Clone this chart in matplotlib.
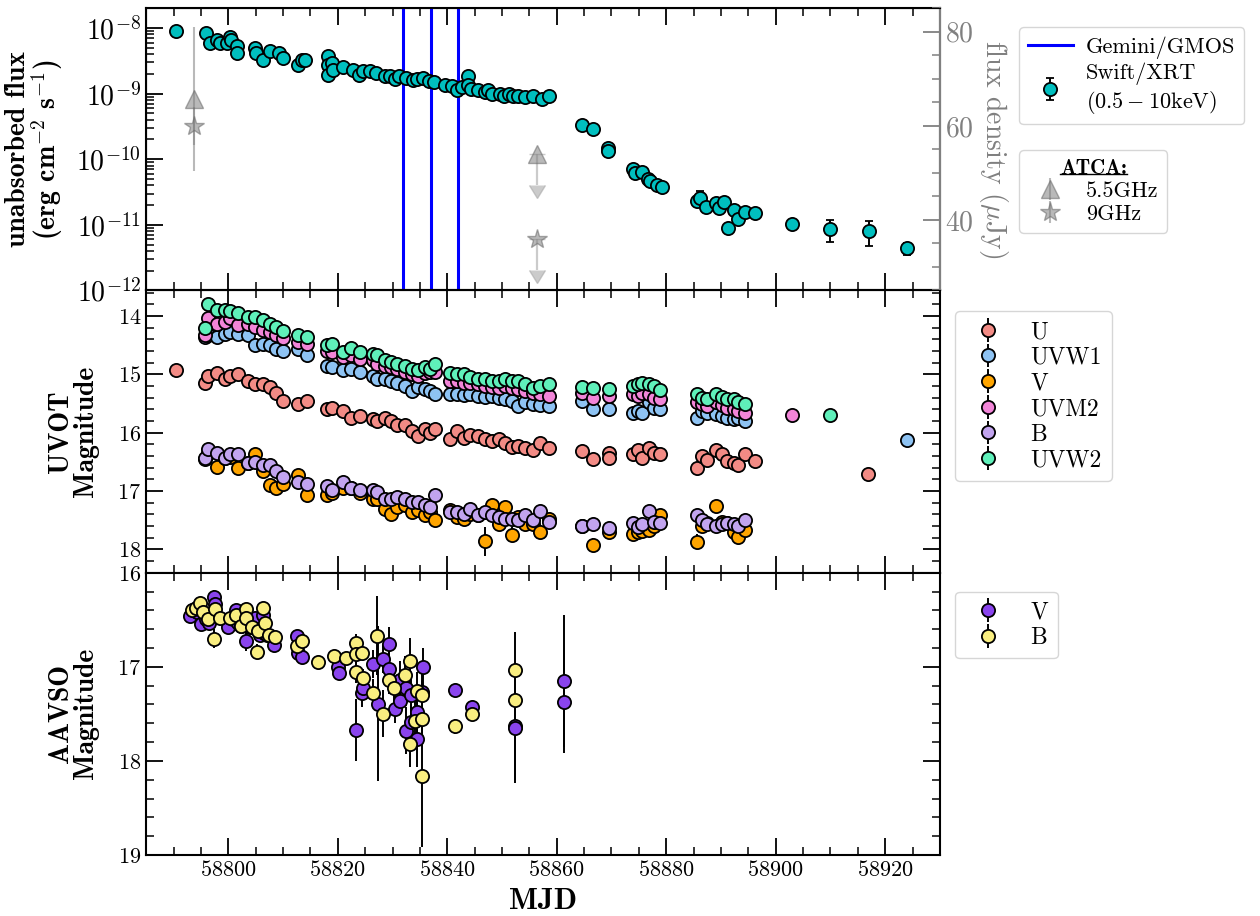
import numpy as np
import matplotlib.pyplot as plt
from matplotlib.ticker import MultipleLocator, LogLocator, NullFormatter
from matplotlib.lines import Line2D

plt.rcParams['font.family'] = 'cmr10'
plt.rcParams['mathtext.fontset'] = 'cm'
plt.rcParams['axes.formatter.use_mathtext'] = True

# ---------------- Swift/XRT unabsorbed flux (0.5-10 keV) ----------------
xrt_mjd = [58790.5, 58795.9, 58796.6, 58797.9, 58798.5, 58799.7, 58800.3, 58800.5, 58801.6, 58801.6,
           58804.9, 58805.0, 58806.4, 58807.7, 58809.3, 58810.0, 58812.8, 58813.4, 58814.1, 58818.3,
           58818.3, 58818.3, 58818.9, 58819.1, 58821.0, 58822.7, 58823.9, 58824.7, 58825.9, 58827.0,
           58828.6, 58829.5, 58830.5, 58831.1, 58832.5, 58833.8, 58834.4, 58835.6, 58836.7, 58837.6,
           58839.6, 58840.8, 58841.7, 58842.7, 58843.7, 58843.7, 58844.3, 58845.7, 58846.9, 58847.5,
           58848.1, 58849.7, 58850.3, 58851.2, 58852.1, 58853.0, 58854.2, 58855.6, 58857.3, 58858.5,
           58864.6, 58866.6, 58869.3, 58869.3, 58874.0, 58874.3, 58875.6, 58876.6, 58877.1, 58878.3,
           58879.3, 58885.6, 58886.1, 58887.3, 58889.0, 58889.6, 58890.6, 58891.2, 58892.3, 58893.2,
           58894.3, 58896.3, 58903.0, 58910.0, 58917.0, 58924.0]
xrt_flux = [8.9e-9, 8.4e-9, 5.9e-9, 6.6e-9, 6.0e-9, 5.9e-9, 7.3e-9, 6.5e-9, 5.3e-9, 4.1e-9,
            5.0e-9, 4.1e-9, 3.2e-9, 4.4e-9, 4.1e-9, 3.5e-9, 2.7e-9, 3.2e-9, 3.2e-9, 3.7e-9,
            2.7e-9, 1.9e-9, 2.9e-9, 2.3e-9, 2.55e-9, 2.3e-9, 1.9e-9, 2.2e-9, 2.2e-9, 2.07e-9,
            1.88e-9, 1.88e-9, 1.68e-9, 1.84e-9, 1.71e-9, 1.64e-9, 1.68e-9, 1.74e-9, 1.54e-9, 1.49e-9,
            1.33e-9, 1.29e-9, 1.13e-9, 1.27e-9, 1.84e-9, 1.37e-9, 1.18e-9, 1.15e-9, 1.05e-9, 1.13e-9,
            1.0e-9, 1.0e-9, 9.1e-10, 9.7e-10, 9.1e-10, 9.1e-10, 8.9e-10, 9.1e-10, 8.3e-10, 9.1e-10,
            3.27e-10, 2.92e-10, 1.5e-10, 1.33e-10, 7.2e-11, 6.1e-11, 6.4e-11, 4.95e-11, 4.67e-11, 4.01e-11,
            3.78e-11, 2.32e-11, 2.61e-11, 1.9e-11, 2.19e-11, 1.78e-11, 2.24e-11, 9.1e-12, 1.69e-11, 1.25e-11,
            1.55e-11, 1.51e-11, 1.02e-11, 8.6e-12, 8.1e-12, 4.38e-12]
xrt_err = [2.7e-10, 2.5e-10, 1.8e-10, 2.0e-10, 1.8e-10, 1.8e-10, 2.2e-10, 2.0e-10, 1.6e-10, 1.2e-10,
           1.5e-10, 1.2e-10, 1.0e-10, 1.3e-10, 1.2e-10, 1.1e-10, 8e-11, 1.0e-10, 1.0e-10, 1.1e-10,
           8e-11, 6e-11, 9e-11, 7e-11, 8e-11, 7e-11, 6e-11, 7e-11, 7e-11, 6e-11,
           6e-11, 6e-11, 5e-11, 6e-11, 5e-11, 5e-11, 5e-11, 5e-11, 5e-11, 4e-11,
           4e-11, 4e-11, 3e-11, 4e-11, 6e-11, 4e-11, 4e-11, 3e-11, 3e-11, 3e-11,
           3e-11, 3e-11, 3e-11, 3e-11, 3e-11, 3e-11, 3e-11, 3e-11, 3e-11, 3e-11,
           1.2e-11, 1.0e-11, 6e-12, 5e-12, 3e-12, 3e-12, 3e-12, 2.5e-12, 2.5e-12, 2e-12,
           2e-12, 3.5e-12, 7e-12, 1.5e-12, 1.5e-12, 2.5e-12, 1.5e-12, 1.2e-12, 1.5e-12, 1.2e-12,
           1.2e-12, 1.2e-12, 1.2e-12, 3.2e-12, 3.3e-12, 9e-13]

# Gemini/GMOS spectroscopy epochs
gmos_mjd = [58832.0, 58837.0, 58842.0]

# ---------------- ATCA radio (uJy) ----------------
atca_det_mjd = [58793.8]
atca_det_55 = [65.7]
atca_det_55_err = [15.3]
atca_det_9 = [60.0]
atca_det_9_err = [4.0]
atca_lim_mjd = [58856.4]
atca_lim_55 = [54.0]
atca_lim_9 = [35.9]
atca_lim_arrow = [6.6]

# ---------------- Swift/UVOT magnitudes ----------------
uvot_mjd = [58795.7, 58796.3, 58797.9, 58799.4, 58800.3, 58801.8, 58803.6, 58804.9, 58806.4, 58807.6,
            58808.8, 58810.0, 58812.8, 58814.3, 58818.0, 58818.9, 58821.0, 58822.5, 58824.1, 58826.5,
            58827.1, 58828.6, 58829.8, 58830.8, 58832.3, 58833.5, 58834.7, 58835.9, 58836.9, 58837.8,
            58840.5, 58841.8, 58843.0, 58844.2, 58845.7, 58846.9, 58848.2, 58849.4, 58850.6, 58851.8,
            58853.0, 58854.2, 58855.7, 58856.9, 58858.5, 58864.6, 58866.6, 58869.5, 58874.0, 58874.9,
            58875.5, 58876.8, 58877.7, 58878.8, 58885.6, 58886.5, 58887.4, 58889.0, 58890.2, 58891.1,
            58892.3, 58893.2, 58894.3]

mag_U = [15.14, 15.02, 14.98, 15.08, 15.02, 15.00, 15.11, 15.16, 15.16, 15.22,
         15.31, 15.45, 15.51, 15.45, 15.60, 15.58, 15.63, 15.74, 15.71, 15.77,
         15.80, 15.74, 15.80, 15.86, 15.86, 15.97, 16.06, 15.94, 16.00, 15.93,
         16.10, 15.97, 16.09, 16.03, 16.06, 16.10, 16.14, 16.10, 16.17, 16.25,
         16.23, 16.26, 16.29, 16.17, 16.26, 16.32, 16.45, 16.35, 16.37, 16.29,
         16.43, 16.26, 16.35, 16.36, 16.60, 16.40, 16.46, 16.29, 16.37, 16.49,
         16.52, 16.55, 16.37]
mag_UVW1 = [14.36, 14.33, 14.36, 14.30, 14.27, 14.30, 14.33, 14.50, 14.47, 14.50,
            14.56, 14.59, 14.56, 14.67, 14.85, 14.87, 14.92, 14.90, 14.96, 15.02,
            15.08, 15.08, 15.11, 15.14, 15.19, 15.28, 15.22, 15.25, 15.28, 15.34,
            15.33, 15.34, 15.35, 15.34, 15.37, 15.38, 15.37, 15.40, 15.42, 15.45,
            15.54, 15.48, 15.51, 15.52, 15.54, 15.45, 15.60, 15.60, 15.66, 15.63,
            15.66, 15.48, 15.57, 15.60, 15.74, 15.63, 15.66, 15.68, 15.71, 15.74,
            15.77, 15.74, 15.79]
mag_V = [16.45, 16.35, 16.58, 16.43, 16.42, 16.61, 16.52, 16.37, 16.66, 16.89,
         16.95, 16.87, 16.72, 17.07, 17.07, 17.04, 16.95, 16.95, 17.04, 17.13,
         17.13, 17.30, 17.39, 17.27, 17.24, 17.35, 17.33, 17.41, 17.35, 17.50,
         17.33, 17.44, 17.47, 17.39, 17.41, 17.86, 17.23, 17.56, 17.27, 17.75,
         17.44, 17.56, 17.56, 17.70, 17.47, 17.59, 17.92, 17.70, 17.73, 17.70,
         17.69, 17.67, 17.59, 17.41, 17.87, 17.59, 17.54, 17.25, 17.53, 17.54,
         17.70, 17.79, 17.66]
err_V = [0.05, 0.05, 0.05, 0.05, 0.05, 0.05, 0.05, 0.05, 0.05, 0.06,
         0.06, 0.06, 0.06, 0.06, 0.06, 0.06, 0.06, 0.06, 0.06, 0.06,
         0.06, 0.07, 0.08, 0.07, 0.07, 0.08, 0.08, 0.08, 0.08, 0.11,
         0.08, 0.09, 0.09, 0.08, 0.08, 0.25, 0.08, 0.09, 0.08, 0.13,
         0.09, 0.09, 0.09, 0.10, 0.09, 0.11, 0.12, 0.12, 0.10, 0.11,
         0.11, 0.10, 0.10, 0.09, 0.13, 0.11, 0.10, 0.10, 0.10, 0.10,
         0.11, 0.12, 0.10]
mag_UVM2 = [14.33, 14.04, 14.13, 14.10, 14.04, 14.16, 14.13, 14.18, 14.24, 14.27,
            14.33, 14.38, 14.44, 14.47, 14.59, 14.62, 14.70, 14.67, 14.73, 14.76,
            14.82, 14.85, 14.88, 14.90, 14.95, 14.99, 15.02, 14.98, 14.96, 14.95,
            15.11, 15.11, 15.14, 15.15, 15.16, 15.19, 15.22, 15.23, 15.19, 15.23,
            15.25, 15.28, 15.31, 15.34, 15.37, 15.31, 15.40, 15.37, 15.34, 15.37,
            15.31, 15.34, 15.40, 15.42, 15.48, 15.51, 15.54, 15.48, 15.52, 15.57,
            15.60, 15.63, 15.66]
mag_B = [16.43, 16.27, 16.35, 16.43, 16.37, 16.37, 16.52, 16.50, 16.55, 16.55,
         16.66, 16.75, 16.84, 16.87, 16.92, 16.98, 16.84, 16.95, 16.98, 16.98,
         17.01, 17.13, 17.13, 17.10, 17.13, 17.18, 17.18, 17.24, 17.27, 17.07,
         17.35, 17.35, 17.39, 17.30, 17.41, 17.35, 17.41, 17.44, 17.47, 17.47,
         17.50, 17.41, 17.50, 17.34, 17.53, 17.59, 17.57, 17.63, 17.54, 17.62,
         17.56, 17.34, 17.53, 17.54, 17.41, 17.50, 17.56, 17.59, 17.56, 17.54,
         17.56, 17.60, 17.50]
mag_UVW2 = [14.21, 13.79, 13.90, 13.90, 13.92, 13.94, 14.01, 14.01, 14.07, 14.13,
            14.18, 14.25, 14.33, 14.36, 14.50, 14.48, 14.62, 14.54, 14.62, 14.65,
            14.67, 14.76, 14.79, 14.82, 14.85, 14.90, 14.92, 14.88, 14.90, 14.82,
            14.98, 14.99, 15.00, 15.04, 15.08, 15.07, 15.11, 15.12, 15.07, 15.11,
            15.12, 15.16, 15.23, 15.19, 15.16, 15.22, 15.23, 15.25, 15.19, 15.16,
            15.15, 15.16, 15.19, 15.27, 15.33, 15.40, 15.42, 15.34, 15.38, 15.42,
            15.42, 15.48, 15.50]

# single late / early visits outside the main cadence
extra_U_mjd = [58790.5, 58869.5, 58896.3, 58916.9]
extra_U_mag = [14.92, 16.43, 16.49, 16.71]
extra_UVW1_mjd = [58924.0]
extra_UVW1_mag = [16.12]
extra_UVM2_mjd = [58903.0]
extra_UVM2_mag = [15.70]
extra_UVW2_mjd = [58910.0]
extra_UVW2_mag = [15.69]

# ---------------- AAVSO ----------------
aavso_V_mjd = [58793.0, 58793.6, 58794.3, 58795.1, 58795.9, 58796.5, 58796.6, 58797.4, 58797.6, 58800.0,
               58800.9, 58801.4, 58801.8, 58802.4, 58803.3, 58803.9, 58804.9, 58805.2, 58805.8, 58806.3,
               58806.5, 58807.0, 58808.3, 58812.5, 58812.8, 58813.4, 58820.0, 58820.3, 58823.3, 58824.4,
               58824.6, 58826.4, 58827.4, 58828.3, 58829.4, 58829.4, 58830.4, 58831.3, 58831.3, 58832.5,
               58832.5, 58833.3, 58833.4, 58834.4, 58834.4, 58835.3, 58835.5, 58841.5, 58844.5, 58852.4,
               58852.4, 58861.4, 58861.4]
aavso_V_mag = [16.46, 16.40, 16.42, 16.55, 16.49, 16.53, 16.46, 16.26, 16.33, 16.58,
               16.49, 16.40, 16.53, 16.57, 16.73, 16.58, 16.48, 16.60, 16.66, 16.45,
               16.64, 16.66, 16.77, 16.67, 16.85, 16.90, 17.00, 17.07, 17.67, 17.28,
               17.23, 16.97, 17.39, 16.92, 16.76, 17.02, 17.45, 17.36, 17.14, 17.22,
               17.68, 17.59, 17.30, 17.48, 17.77, 17.27, 17.00, 17.25, 17.43, 17.63,
               17.65, 17.15, 17.37]
aavso_V_err = [0.05, 0.05, 0.05, 0.05, 0.05, 0.05, 0.05, 0.08, 0.05, 0.05,
               0.05, 0.05, 0.06, 0.05, 0.10, 0.05, 0.06, 0.05, 0.06, 0.08,
               0.05, 0.05, 0.05, 0.06, 0.06, 0.06, 0.05, 0.05, 0.33, 0.15,
               0.12, 0.15, 0.82, 0.15, 0.18, 0.20, 0.15, 0.15, 0.20, 0.20,
               0.25, 0.20, 0.25, 0.25, 0.30, 0.20, 0.20, 0.05, 0.05, 0.60,
               0.55, 0.70, 0.55]

aavso_B_mjd = [58793.3, 58794.1, 58794.9, 58795.4, 58796.3, 58797.4, 58797.6, 58798.5, 58800.3, 58801.4,
               58802.3, 58803.3, 58803.3, 58804.3, 58805.2, 58805.5, 58806.4, 58806.7, 58807.5, 58808.5,
               58812.5, 58813.4, 58816.4, 58819.3, 58821.5, 58823.3, 58823.3, 58823.4, 58824.4, 58824.6,
               58826.4, 58827.1, 58828.3, 58829.3, 58830.2, 58832.3, 58833.2, 58833.2, 58834.1, 58834.4,
               58835.3, 58835.3, 58835.3, 58841.5, 58844.5, 58852.4, 58852.4]
aavso_B_mag = [16.40, 16.37, 16.32, 16.42, 16.49, 16.70, 16.39, 16.48, 16.48, 16.45,
               16.57, 16.39, 16.48, 16.58, 16.84, 16.62, 16.37, 16.53, 16.66, 16.68,
               16.78, 16.73, 16.95, 16.88, 16.91, 16.75, 17.05, 16.86, 16.85, 17.12,
               17.28, 16.67, 17.50, 17.14, 17.23, 17.09, 16.94, 17.82, 17.58, 17.26,
               17.30, 17.55, 18.16, 17.63, 17.50, 17.03, 17.35]
aavso_B_err = [0.05, 0.05, 0.05, 0.05, 0.05, 0.10, 0.05, 0.05, 0.05, 0.05,
               0.05, 0.05, 0.05, 0.05, 0.08, 0.05, 0.06, 0.05, 0.05, 0.05,
               0.06, 0.06, 0.05, 0.05, 0.05, 0.10, 0.12, 0.10, 0.08, 0.10,
               0.15, 0.42, 0.25, 0.15, 0.20, 0.20, 0.25, 0.25, 0.25, 0.20,
               0.15, 0.15, 0.75, 0.08, 0.05, 0.40, 0.30]

# colours
c_xrt = '#00BFBF'
uvot_colors = {'U': '#F28B85', 'UVW1': '#8EC3F3', 'V': '#FFA500',
               'UVM2': '#F285D8', 'B': '#C2A4EF', 'UVW2': '#5FF0BA'}
c_aavso_V = '#8A44EE'
c_aavso_B = '#F9EE80'

fig = plt.figure(figsize=(12.6, 9.16), dpi=100)
gs = fig.add_gridspec(3, 1, left=0.116, right=0.746, top=0.991, bottom=0.0666, hspace=0)
ax1 = fig.add_subplot(gs[0])
ax2 = fig.add_subplot(gs[1], sharex=ax1)
ax3 = fig.add_subplot(gs[2], sharex=ax1)

pt_kw = dict(fmt='o', mec='k', mew=1.3, ecolor='k', elinewidth=1.4)

# ---- top panel: X-ray + radio ----
for m in gmos_mjd:
    gl = ax1.axvline(m, color='#0000FF', lw=2.2, zorder=1)
gl.set_label('Gemini/GMOS')
xrt = ax1.errorbar(xrt_mjd, xrt_flux, yerr=xrt_err, mfc=c_xrt, ms=9.5, capsize=3, capthick=1.4,
                   zorder=3, label='Swift/XRT\n$(0.5-10\\mathrm{keV})$', **pt_kw)
ax1.set_yscale('log')
ax1.set_ylim(1e-12, 2e-8)
ax1.yaxis.set_major_locator(LogLocator(base=10, numticks=10))
ax1.yaxis.set_minor_locator(LogLocator(base=10, subs=np.arange(2, 10), numticks=20))
ax1.yaxis.set_minor_formatter(NullFormatter())
ax1.set_ylabel('unabsorbed flux\n(erg cm$^{-\\mathbf{2}}$ s$^{-\\mathbf{1}}$)',
               fontfamily='cmb10', fontsize=20, linespacing=0.95, labelpad=8)

axr = ax1.twinx()
axr.set_ylim(25, 85)
axr.yaxis.set_major_locator(MultipleLocator(20))
axr.yaxis.set_minor_locator(MultipleLocator(5))
a55 = axr.errorbar(atca_det_mjd, atca_det_55, yerr=atca_det_55_err, fmt='^', ms=13,
                   mfc='gray', mec='dimgray', ecolor='gray', alpha=0.55, zorder=4)
a9 = axr.errorbar(atca_det_mjd, atca_det_9, yerr=atca_det_9_err, fmt='*', ms=15,
                  mfc='gray', mec='dimgray', ecolor='gray', alpha=0.55, zorder=4)
for lim in (atca_lim_55, atca_lim_9):
    axr.errorbar(atca_lim_mjd, lim, yerr=atca_lim_arrow, uplims=True, fmt='none',
                 color='darkgray', ecolor='darkgray', alpha=0.6, capsize=6, elinewidth=1.6)
axr.plot(atca_lim_mjd, atca_lim_55, '^', ms=13, mfc='gray', mec='dimgray', alpha=0.55)
axr.plot(atca_lim_mjd, atca_lim_9, '*', ms=15, mfc='gray', mec='dimgray', alpha=0.55)
axr.set_ylabel('flux density ($\\mu$Jy)', color='gray', rotation=270, fontsize=20, labelpad=26)
axr.tick_params(axis='y', which='both', direction='in', colors='gray', labelsize=20)
axr.tick_params(axis='y', which='major', length=12, width=1.3)
axr.tick_params(axis='y', which='minor', length=6, width=1.1)
axr.spines['right'].set_color('gray')
axr.spines['right'].set_linewidth(1.5)

# ---- middle panel: UVOT ----
uvot_bands = [('U', mag_U, extra_U_mjd, extra_U_mag, 0.04),
              ('UVW1', mag_UVW1, extra_UVW1_mjd, extra_UVW1_mag, 0.03),
              ('V', mag_V, [], [], err_V),
              ('UVM2', mag_UVM2, extra_UVM2_mjd, extra_UVM2_mag, 0.03),
              ('B', mag_B, [], [], 0.05),
              ('UVW2', mag_UVW2, extra_UVW2_mjd, extra_UVW2_mag, 0.03)]
for name, mags, ex_mjd, ex_mag, err in uvot_bands:
    t = list(uvot_mjd) + list(ex_mjd)
    m = list(mags) + list(ex_mag)
    e = list(err) + [0.05] * len(ex_mjd) if np.ndim(err) else err
    ax2.errorbar(t, m, yerr=e, mfc=uvot_colors[name], ms=9.5, capsize=0, label=name, **pt_kw)
ax2.set_ylim(18.4, 13.56)
ax2.yaxis.set_major_locator(MultipleLocator(1))
ax2.yaxis.set_minor_locator(MultipleLocator(0.2))
ax2.set_ylabel('UVOT\nMagnitude', fontfamily='cmb10', fontsize=20, linespacing=0.95, labelpad=13)

# ---- bottom panel: AAVSO ----
ax3.errorbar(aavso_V_mjd, aavso_V_mag, yerr=aavso_V_err, mfc=c_aavso_V, ms=9.5, capsize=0,
             label='V', **pt_kw)
ax3.errorbar(aavso_B_mjd, aavso_B_mag, yerr=aavso_B_err, mfc=c_aavso_B, ms=9.5, capsize=0,
             label='B', **pt_kw)
ax3.set_ylim(19, 16)
ax3.yaxis.set_major_locator(MultipleLocator(1))
ax3.yaxis.set_minor_locator(MultipleLocator(0.2))
ax3.set_ylabel('AAVSO\nMagnitude', fontfamily='cmb10', fontsize=20, linespacing=0.95, labelpad=13)
ax3.set_xlabel('MJD', fontfamily='cmb10', fontsize=22, labelpad=6)

ax3.set_xlim(58785, 58930)
ax3.xaxis.set_major_locator(MultipleLocator(20))
ax3.xaxis.set_minor_locator(MultipleLocator(5))

for ax in (ax1, ax2, ax3):
    ax.tick_params(which='both', direction='in', top=True, right=(ax is not ax1), labelsize=16)
    ax.tick_params(which='major', length=12, width=1.3)
    ax.tick_params(which='minor', length=6, width=1.1)
    for s in ax.spines.values():
        s.set_linewidth(1.5)
ax1.tick_params(axis='y', labelsize=20)
for ax in (ax1, ax2):
    plt.setp(ax.get_xticklabels(), visible=False)

# ---- legends ----
leg_kw = dict(loc='upper left', bbox_transform=fig.transFigure, borderaxespad=0,
              fontsize=17, handletextpad=0.8, labelspacing=0.15)
top_kw = dict(leg_kw, fontsize=16, handletextpad=0.6)
leg1 = axr.legend(handles=[gl, xrt], bbox_to_anchor=(0.809, 0.970), **top_kw)
axr.add_artist(leg1)
leg2 = axr.legend(handles=[a55, a9], labels=['5.5GHz', '9GHz'], title='ATCA:',
                  bbox_to_anchor=(0.809, 0.836), **top_kw)
leg2.get_title().set_fontfamily('cmb10')
leg2.get_title().set_fontsize(15)
ax2.legend(bbox_to_anchor=(0.758, 0.660), **leg_kw)
ax3.legend(bbox_to_anchor=(0.758, 0.354), **leg_kw)

fig.align_ylabels([ax2, ax3])

# underline the ATCA legend title (just under its baseline)
fig.canvas.draw()
tb = leg2.get_title().get_window_extent().transformed(fig.transFigure.inverted())
y_ul = tb.y0 + 0.22 * (tb.y1 - tb.y0)
fig.add_artist(Line2D([tb.x0, tb.x1], [y_ul, y_ul], color='k', lw=1.0,
                      transform=fig.transFigure))

fig.savefig('out.png', dpi=100)
